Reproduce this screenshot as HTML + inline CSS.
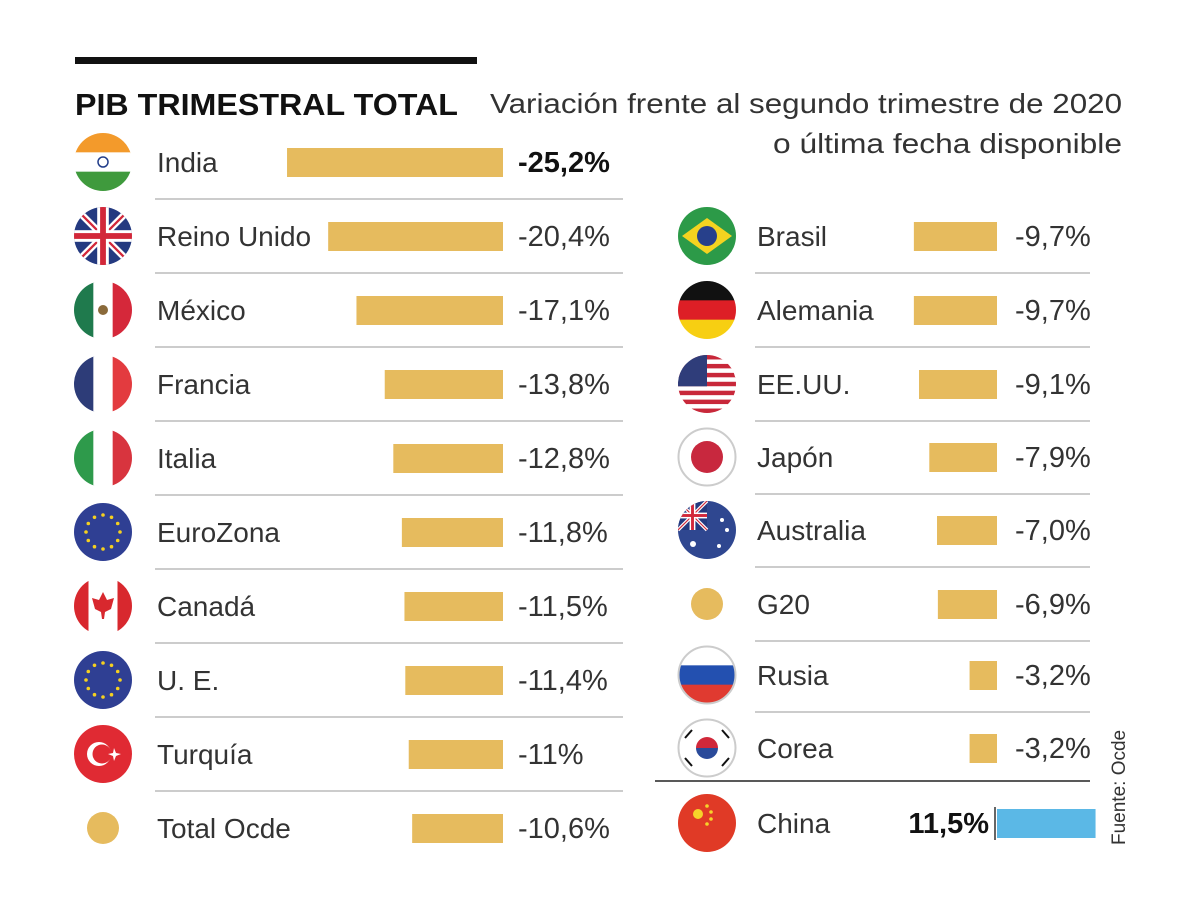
<!DOCTYPE html>
<html><head><meta charset="utf-8">
<style>
body{margin:0;background:#fff;}
svg{display:block;font-family:"Liberation Sans",sans-serif;}
</style></head>
<body>
<svg id="chart" width="1200" height="901" viewBox="0 0 1200 901" xmlns="http://www.w3.org/2000/svg">
<rect x="0" y="0" width="1200" height="901" fill="#fff"/>
<rect x="75" y="57" width="402" height="7" fill="#111"/>
<text x="75" y="115" font-size="31" font-weight="bold" fill="#111" textLength="383" lengthAdjust="spacingAndGlyphs">PIB TRIMESTRAL TOTAL</text>
<text x="490" y="113" font-size="28" fill="#333" textLength="632" lengthAdjust="spacingAndGlyphs">Variación frente al segundo trimestre de 2020</text>
<text x="773" y="153" font-size="28" fill="#333" textLength="349" lengthAdjust="spacingAndGlyphs">o última fecha disponible</text>
<text transform="translate(1125,845) rotate(-90)" font-size="19" fill="#333">Fuente: Ocde</text>
<g id="rows"></g>
</svg>
<script>
const leftNames = ["India","Reino Unido","México","Francia","Italia","EuroZona","Canadá","U. E.","Turquía","Total Ocde"];
const leftValues = [-25.2,-20.4,-17.1,-13.8,-12.8,-11.8,-11.5,-11.4,-11,-10.6];
const leftLabels = ["-25,2%","-20,4%","-17,1%","-13,8%","-12,8%","-11,8%","-11,5%","-11,4%","-11%","-10,6%"];
const leftFlags = ["in","uk","mx","fr","it","eu","ca","eu","tr","dot"];
const rightNames = ["Brasil","Alemania","EE.UU.","Japón","Australia","G20","Rusia","Corea","China"];
const rightValues = [-9.7,-9.7,-9.1,-7.9,-7.0,-6.9,-3.2,-3.2,11.5];
const rightLabels = ["-9,7%","-9,7%","-9,1%","-7,9%","-7,0%","-6,9%","-3,2%","-3,2%","11,5%"];
const rightFlags = ["br","de","us","jp","au","dot","ru","kr","cn"];

const scale = v => Math.abs(v)*8.57;
let cid=0;
function flag(code,cx,cy){
  const r=29; cid++;
  const id="c"+cid;
  const x0=cx-r,y0=cy-r,w=2*r;
  let s=`<clipPath id="${id}"><circle cx="${cx}" cy="${cy}" r="${r}"/></clipPath><g clip-path="url(#${id})">`;
  const v3=(a,b,c)=>`<rect x="${x0}" y="${y0}" width="${w/3+1}" height="${w}" fill="${a}"/><rect x="${x0+w/3}" y="${y0}" width="${w/3+1}" height="${w}" fill="${b}"/><rect x="${x0+2*w/3}" y="${y0}" width="${w/3}" height="${w}" fill="${c}"/>`;
  const h3=(a,b,c)=>`<rect x="${x0}" y="${y0}" width="${w}" height="${w/3+1}" fill="${a}"/><rect x="${x0}" y="${y0+w/3}" width="${w}" height="${w/3+1}" fill="${b}"/><rect x="${x0}" y="${y0+2*w/3}" width="${w}" height="${w/3}" fill="${c}"/>`;
  const stars=(n,rr,col)=>{let t="";for(let i=0;i<n;i++){const a=i*2*Math.PI/n;t+=`<circle cx="${cx+rr*Math.cos(a)}" cy="${cy+rr*Math.sin(a)}" r="1.8" fill="${col}"/>`;}return t;};
  const ukj=(ox,oy,ww,hh)=>`<rect x="${ox}" y="${oy}" width="${ww}" height="${hh}" fill="#243a80"/><line x1="${ox}" y1="${oy}" x2="${ox+ww}" y2="${oy+hh}" stroke="#fff" stroke-width="${ww*0.12}"/><line x1="${ox+ww}" y1="${oy}" x2="${ox}" y2="${oy+hh}" stroke="#fff" stroke-width="${ww*0.12}"/><line x1="${ox}" y1="${oy}" x2="${ox+ww}" y2="${oy+hh}" stroke="#d2283a" stroke-width="${ww*0.04}"/><line x1="${ox+ww}" y1="${oy}" x2="${ox}" y2="${oy+hh}" stroke="#d2283a" stroke-width="${ww*0.04}"/><rect x="${ox+ww*0.4}" y="${oy}" width="${ww*0.2}" height="${hh}" fill="#fff"/><rect x="${ox}" y="${oy+hh*0.4}" width="${ww}" height="${hh*0.2}" fill="#fff"/><rect x="${ox+ww*0.45}" y="${oy}" width="${ww*0.1}" height="${hh}" fill="#d2283a"/><rect x="${ox}" y="${oy+hh*0.45}" width="${ww}" height="${hh*0.1}" fill="#d2283a"/>`;
  switch(code){
    case "in": s+=h3("#f39a2b","#fff","#3f9a3d")+`<circle cx="${cx}" cy="${cy}" r="5" fill="none" stroke="#233e8b" stroke-width="1.5"/>`;break;
    case "uk": s+=ukj(x0,y0,w,w);break;
    case "mx": s+=v3("#1f7a4d","#fff","#d5283a")+`<circle cx="${cx}" cy="${cy}" r="5" fill="#8a6a3a"/>`;break;
    case "fr": s+=v3("#2d3c78","#fff","#e33b3f");break;
    case "it": s+=v3("#2e9a4b","#fff","#d8343e");break;
    case "eu": s+=`<rect x="${x0}" y="${y0}" width="${w}" height="${w}" fill="#2f3f93"/>`+stars(12,17,"#f5d020");break;
    case "ca": s+=`<rect x="${x0}" y="${y0}" width="${w}" height="${w}" fill="#fff"/><rect x="${x0}" y="${y0}" width="${w*0.25}" height="${w}" fill="#d8282e"/><rect x="${x0+w*0.75}" y="${y0}" width="${w*0.25}" height="${w}" fill="#d8282e"/><polygon points="${cx},${cy-14} ${cx+4},${cy-6} ${cx+11},${cy-8} ${cx+8},${cy+3} ${cx+2},${cy+6} ${cx+1},${cy+13} ${cx-1},${cy+13} ${cx-2},${cy+6} ${cx-8},${cy+3} ${cx-11},${cy-8} ${cx-4},${cy-6}" fill="#d8282e"/>`;break;
    case "tr": s+=`<rect x="${x0}" y="${y0}" width="${w}" height="${w}" fill="#e02a33"/><circle cx="${cx-4}" cy="${cy}" r="12" fill="#fff"/><circle cx="${cx-1}" cy="${cy}" r="9.5" fill="#e02a33"/><polygon points="${cx+11},${cy-6} ${cx+13},${cy-1} ${cx+18},${cy} ${cx+13},${cy+2} ${cx+11},${cy+7} ${cx+10},${cy+2} ${cx+5},${cy} ${cx+10},${cy-1}" fill="#fff"/>`;break;
    case "br": s+=`<rect x="${x0}" y="${y0}" width="${w}" height="${w}" fill="#2c9a48"/><polygon points="${cx-25},${cy} ${cx},${cy-18} ${cx+25},${cy} ${cx},${cy+18}" fill="#f4d320"/><circle cx="${cx}" cy="${cy}" r="10" fill="#27408b"/>`;break;
    case "de": s+=h3("#111","#dd1f26","#f7cf12");break;
    case "us": {for(let i=0;i<13;i++) s+=`<rect x="${x0}" y="${y0+i*w/13}" width="${w}" height="${w/13+0.5}" fill="${i%2?'#fff':'#c8283a'}"/>`; s+=`<rect x="${x0}" y="${y0}" width="${w*0.5}" height="${w*0.54}" fill="#2f3d7a"/>`;break;}
    case "jp": s+=`<rect x="${x0}" y="${y0}" width="${w}" height="${w}" fill="#fff"/><circle cx="${cx}" cy="${cy}" r="16" fill="#c8283e"/>`;break;
    case "au": s+=`<rect x="${x0}" y="${y0}" width="${w}" height="${w}" fill="#2f4790"/>`+ukj(x0,y0,w/2,w/2)+`<circle cx="${cx-14}" cy="${cy+14}" r="3" fill="#fff"/><circle cx="${cx+15}" cy="${cy-10}" r="2" fill="#fff"/><circle cx="${cx+20}" cy="${cy}" r="2" fill="#fff"/><circle cx="${cx+12}" cy="${cy+16}" r="2" fill="#fff"/>`;break;
    case "ru": s+=h3("#fff","#2350b0","#e03a30");break;
    case "kr": s+=`<rect x="${x0}" y="${y0}" width="${w}" height="${w}" fill="#fff"/><path d="M ${cx-11} ${cy} A 11 11 0 0 1 ${cx+11} ${cy} Z" fill="#d1283a"/><path d="M ${cx-11} ${cy} A 11 11 0 0 0 ${cx+11} ${cy} Z" fill="#2a4a9a"/><g stroke="#111" stroke-width="2"><line x1="${cx-22}" y1="${cy-10}" x2="${cx-15}" y2="${cy-18}"/><line x1="${cx+15}" y1="${cy-18}" x2="${cx+22}" y2="${cy-10}"/><line x1="${cx-22}" y1="${cy+10}" x2="${cx-15}" y2="${cy+18}"/><line x1="${cx+15}" y1="${cy+18}" x2="${cx+22}" y2="${cy+10}"/></g>`;break;
    case "cn": s+=`<rect x="${x0}" y="${y0}" width="${w}" height="${w}" fill="#e03a26"/><circle cx="${cx-9}" cy="${cy-9}" r="5" fill="#f6d32a"/><circle cx="${cx}" cy="${cy-17}" r="1.8" fill="#f6d32a"/><circle cx="${cx+4}" cy="${cy-11}" r="1.8" fill="#f6d32a"/><circle cx="${cx+4}" cy="${cy-4}" r="1.8" fill="#f6d32a"/><circle cx="${cx}" cy="${cy+1}" r="1.8" fill="#f6d32a"/>`;break;
  }
  s+=`</g>`;
  if(code==="jp"||code==="ru"||code==="kr") s+=`<circle cx="${cx}" cy="${cy}" r="${r-0.5}" fill="none" stroke="#ccc" stroke-width="2"/>`;
  if(code==="dot") s=`<circle cx="${cx}" cy="${cy}" r="16" fill="#e6bb5e"/>`;
  return s;
}
const g=document.getElementById("rows");
let html="";
leftNames.forEach((n,i)=>{
  const cy=162+i*74.0;
  const slug=n.toLowerCase().replace(/[^a-z]+/g,'-');
  html+=`<g>`;
  html+=`<g>${flag(leftFlags[i],103,cy)}</g>`;
  html+=`<text x="157" y="${cy+10}" font-size="28" fill="#333">${n}</text>`;
  const bw=scale(leftValues[i]);
  html+=`<rect x="${503-bw}" y="${cy-14}" width="${bw}" height="29" fill="#e6bb5e"/>`;
  html+=`<text x="518" y="${cy+10}" font-size="29" fill="${i===0?'#111':'#333'}" ${i===0?'font-weight="bold"':''}>${leftLabels[i]}</text>`;
  if(i<leftNames.length-1) html+=`<line x1="155" x2="623" y1="${cy+37}" y2="${cy+37}" stroke="#999" stroke-width="1"/>`;
  html+=`</g>`;
});
const rightY=[236,310,384,457,530,604,675,748,823];
rightNames.forEach((n,i)=>{
  const cy=rightY[i];
  const slug=n.toLowerCase().replace(/[^a-z0-9]+/g,'-');
  html+=`<g>`;
  html+=`<g>${flag(rightFlags[i],707,cy)}</g>`;
  html+=`<text x="757" y="${cy+10}" font-size="28" fill="#333">${n}</text>`;
  const bw=scale(rightValues[i]);
  if(rightValues[i]<0){
    html+=`<rect x="${997-bw}" y="${cy-14}" width="${bw}" height="29" fill="#e6bb5e"/>`;
    html+=`<text x="1015" y="${cy+10}" font-size="29" fill="#333">${rightLabels[i]}</text>`;
  } else {
    html+=`<rect x="997" y="${cy-14}" width="${bw}" height="29" fill="#5bb8e6"/>`;
    html+=`<line x1="995" x2="995" y1="${cy-16}" y2="${cy+17}" stroke="#333" stroke-width="1.5"/>`;
    html+=`<text x="989" y="${cy+10}" font-size="29" font-weight="bold" fill="#111" text-anchor="end">${rightLabels[i]}</text>`;
  }
  if(i<rightNames.length-2) html+=`<line x1="755" x2="1090" y1="${cy+37}" y2="${cy+37}" stroke="#999" stroke-width="1"/>`;
  html+=`</g>`;
});
html+=`<line x1="655" x2="1090" y1="781" y2="781" stroke="#222" stroke-width="1.5"/>`;
g.innerHTML=html;
</script>
</body></html>
